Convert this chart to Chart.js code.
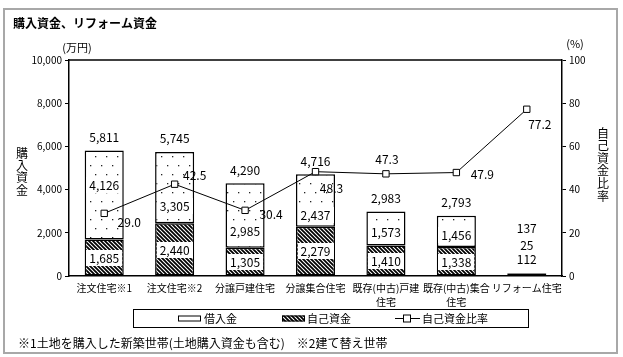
<!DOCTYPE html>
<html lang="ja">
<head>
<meta charset="utf-8">
<script src="https://cdn.jsdelivr.net/npm/chart.js@4.4.1/dist/chart.umd.min.js"></script>
<style>
  html, body { margin: 0; padding: 0; background: #fff; }
  canvas { display: block; }
</style>
</head>
<body>
<canvas id="c" width="623" height="357"></canvas>
<script>
// ---- data ----
const categories = ['注文住宅※1', '注文住宅※2', '分譲戸建住宅', '分譲集合住宅', ['既存(中古)戸建', '住宅'], ['既存(中古)集合', '住宅'], 'リフォーム住宅'];
const selfFunds = [1685, 2440, 1305, 2279, 1410, 1338, 112];   // 自己資金 (万円)
const loans     = [4126, 3305, 2985, 2437, 1573, 1456, 25];    // 借入金 (万円)
const totals    = [5811, 5745, 4290, 4716, 2983, 2793, 137];   // 購入資金 total labels
const ratios    = [29.0, 42.5, 30.4, 48.3, 47.3, 47.9, 77.2];  // 自己資金比率 (%)
const seriesNames = ['自己資金', '借入金', '自己資金比率'];

const titleText = '購入資金、リフォーム資金';
const leftAxisTitle = '購入資金';
const rightAxisTitle = '自己資金比率';
const leftUnit = '(万円)';
const rightUnit = '(%)';
const footnote = '※1土地を購入した新築世帯(土地購入資金も含む)　※2建て替え世帯';

// ---- styling helpers (not data) ----
const JP = "'Noto Sans CJK JP', 'Noto Sans', sans-serif";
const NUM = "'Noto Sans CJK JP', sans-serif";
const loanLabelFrac = [0.39, 0.76, 0.74, 0.78, 0.6, 0.61, 0.5];
const lineLabelOffset = [[25, 9], [20, -9], [26, 4], [16, 17], [1, -14], [26, 2], [13, 15]];
const reformIndex = 6;

function makeHatch() {
  const c = document.createElement('canvas');
  c.width = 4; c.height = 4;
  const g = c.getContext('2d');
  g.fillStyle = '#fff'; g.fillRect(0, 0, 4, 4);
  g.strokeStyle = '#000'; g.lineWidth = 1.8;
  g.beginPath();
  g.moveTo(-1, -1); g.lineTo(5, 5);
  g.moveTo(-1, 3); g.lineTo(1, 5);
  g.moveTo(3, -1); g.lineTo(5, 1);
  g.stroke();
  return g.createPattern(c, 'repeat');
}
function makeDots() {
  const c = document.createElement('canvas');
  c.width = 11; c.height = 18;
  const g = c.getContext('2d');
  g.fillStyle = '#fff'; g.fillRect(0, 0, 11, 18);
  g.fillStyle = '#222';
  g.fillRect(2, 3, 1.3, 1.3);
  g.fillRect(7, 12, 1.3, 1.3);
  return g.createPattern(c, 'repeat');
}
const hatch = makeHatch();
const dots = makeDots();
const fmt = v => v.toLocaleString('en-US');

const decorPlugin = {
  id: 'decor',
  beforeDraw(chart) {
    const ctx = chart.ctx;
    ctx.save();
    ctx.fillStyle = '#fff';
    ctx.fillRect(0, 0, chart.width, chart.height);
    ctx.restore();
  },
  afterDatasetsDraw(chart) {
    const ctx = chart.ctx;
    const y = chart.scales.y;
    const mSelf = chart.getDatasetMeta(0);
    const mLine = chart.getDatasetMeta(2);
    ctx.save();
    ctx.font = '12px ' + NUM;
    ctx.textAlign = 'center';
    ctx.textBaseline = 'middle';
    ctx.fillStyle = '#000';
    const boxText = (t, x, yy) => {
      const w = ctx.measureText(t).width;
      ctx.fillStyle = '#fff';
      ctx.fillRect(Math.round(x - w / 2 - 3), Math.round(yy - 8), Math.round(w + 6), 16);
      ctx.fillStyle = '#000';
      ctx.fillText(t, x, yy + 0.5);
    };
    categories.forEach((_, i) => {
      const x = mSelf.data[i].x;
      const top = y.getPixelForValue(selfFunds[i] + loans[i]);
      if (i === reformIndex) {
        ctx.fillText(fmt(totals[i]), x, top - 45);
        ctx.fillText(fmt(loans[i]), x, top - 28);
        ctx.fillText(fmt(selfFunds[i]), x, top - 14);
        return;
      }
      ctx.fillText(fmt(totals[i]), x, y.getPixelForValue(totals[i]) - 13);
      const mid = y.getPixelForValue(selfFunds[i]);
      const zero = y.getPixelForValue(0);
      boxText(fmt(loans[i]), x, top + (mid - top) * loanLabelFrac[i]);
      boxText(fmt(selfFunds[i]), x, (mid + zero) / 2);
    });
    mLine.data.forEach((p, i) => {
      const o = lineLabelOffset[i];
      ctx.fillText(ratios[i].toFixed(1), p.x + o[0], p.y + o[1]);
    });
    ctx.restore();
  },
  afterDraw(chart) {
    const ctx = chart.ctx;
    const a = chart.chartArea;
    ctx.save();
    // plot frame top line
    ctx.strokeStyle = '#000'; ctx.lineWidth = 1.5;
    ctx.beginPath(); ctx.moveTo(a.left, a.top); ctx.lineTo(a.right, a.top); ctx.stroke();
    // outer frame
    ctx.strokeStyle = '#a8a8a8'; ctx.lineWidth = 2;
    ctx.strokeRect(4, 9, 613, 344);
    // title
    ctx.fillStyle = '#000';
    ctx.textBaseline = 'middle';
    ctx.textAlign = 'left';
    ctx.font = 'bold 12px ' + JP;
    ctx.fillText(titleText, 13, 23);
    // units
    ctx.font = '11px ' + JP;
    ctx.textAlign = 'center';
    ctx.fillText(leftUnit, 77, 48);
    ctx.fillText(rightUnit, 575, 44);
    // vertical axis titles
    ctx.font = '12px ' + JP;
    [...leftAxisTitle].forEach((ch, k) => ctx.fillText(ch, 22, 153 + k * 12.4));
    [...rightAxisTitle].forEach((ch, k) => ctx.fillText(ch, 603, 133 + k * 12.6));
    // legend
    ctx.strokeStyle = '#000'; ctx.lineWidth = 1;
    ctx.strokeRect(133.5, 309.5, 395, 18);
    ctx.font = '11px ' + JP;
    ctx.textAlign = 'left';
    const ly = 318.5;
    const ds = chart.data.datasets;
    // 借入金
    ctx.fillStyle = '#fff'; ctx.fillRect(178, ly - 3, 23, 6);
    ctx.strokeRect(178.5, ly - 2.5, 22, 5);
    ctx.fillStyle = '#000'; ctx.fillText(ds[1].label, 204, ly);
    // 自己資金
    ctx.fillStyle = ds[0].backgroundColor; ctx.fillRect(282, ly - 3, 23, 6);
    ctx.strokeRect(282.5, ly - 2.5, 22, 5);
    ctx.fillStyle = '#000'; ctx.fillText(ds[0].label, 307, ly);
    // 自己資金比率
    ctx.beginPath(); ctx.moveTo(395, ly); ctx.lineTo(420, ly); ctx.stroke();
    ctx.fillStyle = '#fff'; ctx.fillRect(403.5, ly - 3.5, 7, 7);
    ctx.strokeRect(403.5, ly - 3.5, 7, 7);
    ctx.fillStyle = '#000'; ctx.fillText(ds[2].label, 422, ly);
    // footnote
    ctx.font = '12px ' + JP;
    ctx.fillText(footnote, 18, 343);
    ctx.restore();
  }
};

new Chart(document.getElementById('c'), {
  data: {
    labels: categories,
    datasets: [
      { type: 'bar', label: seriesNames[0], data: selfFunds, stack: 's', yAxisID: 'y', order: 1,
        backgroundColor: hatch, borderColor: '#000', borderWidth: 1.5, borderSkipped: false,
        barPercentage: 0.555, categoryPercentage: 1 },
      { type: 'bar', label: seriesNames[1], data: loans, stack: 's', yAxisID: 'y', order: 2,
        backgroundColor: dots, borderColor: '#000', borderWidth: 1.5, borderSkipped: false,
        barPercentage: 0.555, categoryPercentage: 1 },
      { type: 'line', label: seriesNames[2], data: ratios, yAxisID: 'y1', order: 0,
        borderColor: '#000', borderWidth: 1, pointStyle: 'rect', pointRadius: 4.5,
        pointBackgroundColor: '#fff', pointBorderColor: '#000', pointBorderWidth: 1, tension: 0 }
    ]
  },
  options: {
    responsive: false,
    animation: false,
    devicePixelRatio: 1,
    layout: { padding: { top: 60, left: 0, right: 0, bottom: 0 } },
    plugins: { legend: { display: false }, tooltip: { enabled: false }, title: { display: false } },
    scales: {
      x: {
        stacked: true,
        grid: { display: false, drawTicks: false },
        border: { color: '#000', width: 1.5 },
        ticks: { color: '#000', font: { family: JP, size: 10, lineHeight: '14px' }, padding: 5, maxRotation: 0, autoSkip: false },
        afterFit: s => { s.height = 81; }
      },
      y: {
        stacked: true, min: 0, max: 10000,
        ticks: { stepSize: 2000, color: '#000', font: { family: JP, size: 10 }, padding: 3, callback: v => fmt(v) },
        grid: { drawOnChartArea: false, tickLength: 4, color: '#000', lineWidth: 1 },
        border: { color: '#000', width: 1.5 },
        afterFit: s => { s.width = 69; }
      },
      y1: {
        position: 'right', min: 0, max: 100,
        ticks: { stepSize: 20, color: '#000', font: { family: JP, size: 10 }, padding: 3 },
        grid: { drawOnChartArea: false, tickLength: 4, color: '#000', lineWidth: 1 },
        border: { color: '#000', width: 1.5 },
        afterFit: s => { s.width = 61; }
      }
    }
  },
  plugins: [decorPlugin]
});
</script>
</body>
</html>
